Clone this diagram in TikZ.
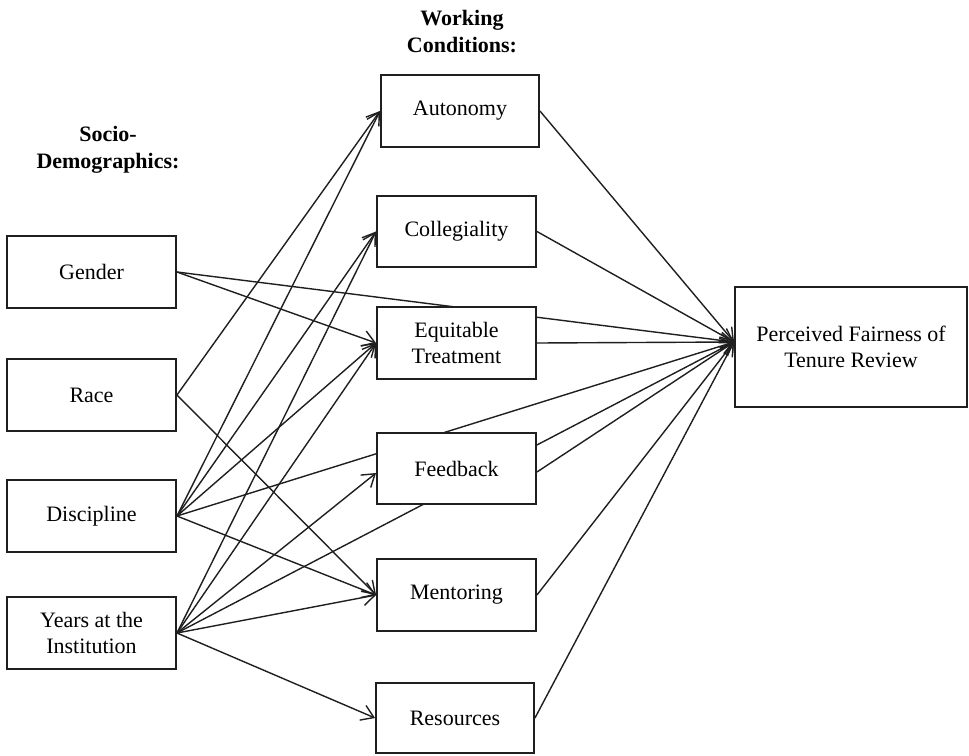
\documentclass[tikz,border=0pt]{standalone}
\usepackage{fontspec}
\setmainfont{Liberation Serif}
\usetikzlibrary{arrows.meta,calc,backgrounds}
\begin{document}
\begin{tikzpicture}[x=1pt,y=-1pt,
  box/.style={draw=black!88, line width=1.9pt, fill=white, inner sep=0pt, align=center,
    font=\fontsize{22}{26}\selectfont},
  lbox/.style={box, minimum width=169pt, minimum height=72pt},
  mbox/.style={box, minimum width=159pt, minimum height=71pt},
  hdr/.style={align=center, inner sep=0pt, font=\fontsize{22}{27}\selectfont\bfseries},
  link/.style={line width=1.4pt, draw=black!88,
    -{Straight Barb[length=12pt,width=16pt,line width=1.4pt]}}
]
\useasboundingbox (0,0) rectangle (969,755);

% headers
\node[hdr] (wc) at (462,32) {Working\\Conditions:};
\node[hdr] (sd) at (108,150) {Socio-\\Demographics:};

% left column
\node[lbox] (gen) at (91.5,272) {Gender};
\node[lbox] (race) at (91.5,395) {Race};
\node[lbox] (disc) at (91.5,516) {Discipline};
\node[lbox] (yrs) at (91.5,633) {Years at the\\Institution};

% middle column
\node[mbox, minimum width=158pt, minimum height=72pt] (aut) at (460,111) {Autonomy};
\node[mbox] (col) at (456.5,231.5) {Collegiality};
\node[mbox, minimum height=72pt] (eq) at (456.5,343) {Equitable\\Treatment};
\node[mbox] (fb) at (456.5,468.5) {Feedback};
\node[mbox, minimum height=72pt] (men) at (456.5,595) {Mentoring};
\node[mbox, minimum width=158pt, minimum height=70pt] (res) at (455,718) {Resources};

% outcome
\node[box, minimum width=232pt, minimum height=120pt] (pf) at (851,347)
  {Perceived Fairness of\\Tenure Review};

\coordinate (P) at ($(pf.west)+(0,-5)$);
\coordinate (fbin) at ($(fb.west)+(0,4.5)$);
\coordinate (fbout) at ($(fb.east)+(0,3.5)$);

\begin{scope}[on background layer]
  % Gender
  \draw[link] (gen.east) -- (eq.west);
  \draw[link] (gen.east) -- (P);
  % Race
  \draw[link] (race.east) -- (aut.west);
  \draw[link] (race.east) -- (men.west);
  % Discipline
  \draw[link] (disc.east) -- (aut.west);
  \draw[link] (disc.east) -- (col.west);
  \draw[link] (disc.east) -- (eq.west);
  \draw[link] (disc.east) -- (men.west);
  \draw[link] (disc.east) -- (P);
  % Years
  \draw[link] (yrs.east) -- (col.west);
  \draw[link] (yrs.east) -- (eq.west);
  \draw[link] (yrs.east) -- (fbin);
  \draw[link] (yrs.east) -- (men.west);
  \draw[link] (yrs.east) -- (res.west);
  \draw[link] (yrs.east) -- (P);
  % working conditions -> outcome
  \draw[link] (aut.east) -- (P);
  \draw[link] (col.east) -- (P);
  \draw[link] (eq.east) -- (P);
  \draw[link] (fbout) -- (P);
  \draw[link] (men.east) -- (P);
  \draw[link] (res.east) -- (P);
\end{scope}
\end{tikzpicture}
\end{document}
